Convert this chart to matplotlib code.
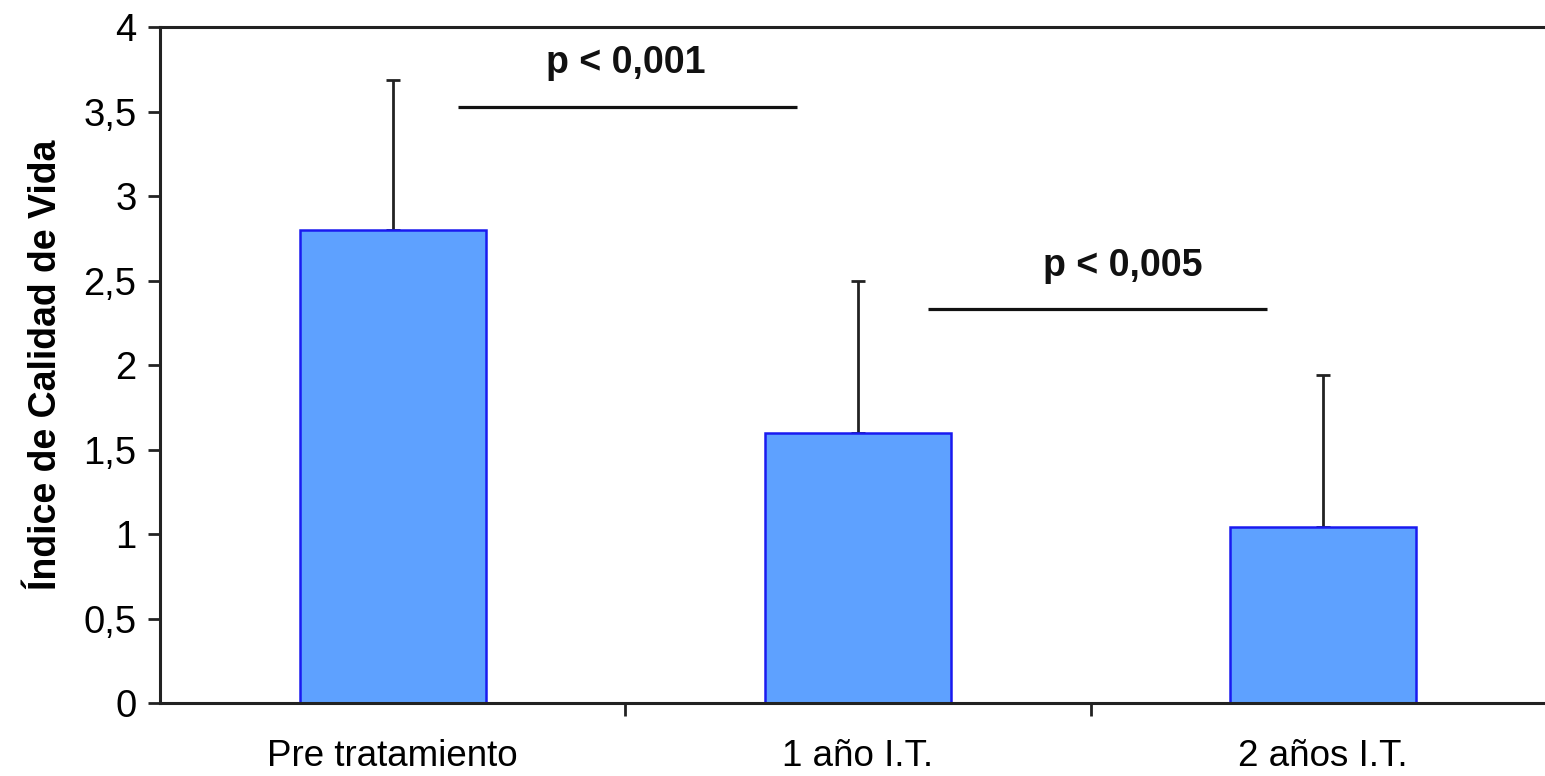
import matplotlib
matplotlib.use("Agg")
import matplotlib.pyplot as plt
from matplotlib.ticker import FuncFormatter, FixedLocator

categories = ["Pre tratamiento", "1 año I.T.", "2 años I.T."]
means = [2.80, 1.60, 1.04]
sd_upper = [0.89, 0.90, 0.90]
y_ticks = [0, 0.5, 1, 1.5, 2, 2.5, 3, 3.5, 4]
sig_labels = ["p < 0,001", "p < 0,005"]
sig_x = [(0.14, 0.87), (1.15, 1.88)]
sig_y = [3.53, 2.33]
sig_text_x = [0.50, 1.57]

plt.rcParams['font.family'] = ['Liberation Sans', 'DejaVu Sans']

fig = plt.figure(figsize=(15.45, 7.76), dpi=100)
ax = fig.add_axes([0.1036, 0.094, 0.9034, 0.871])

x = list(range(len(categories)))
ax.bar(x, means, width=0.4, color='#5EA1FF', edgecolor='#1A1AF0', linewidth=1.8, zorder=2)
ax.errorbar(x, means, yerr=[[0]*len(means), sd_upper], fmt='none', ecolor='#222222',
            elinewidth=2, capsize=5, capthick=2, zorder=1)

for (x0, x1), yy, tx, lab in zip(sig_x, sig_y, sig_text_x, sig_labels):
    ax.plot([x0, x1], [yy, yy], color='#111111', lw=2.3, solid_capstyle='butt')
    ax.text(tx, yy + 0.2, lab, ha='center', va='baseline',
            fontsize=27, fontweight='bold', color='#111111')

ax.set_xlim(-0.5, 2.5)
ax.set_ylim(0, 4)
ax.yaxis.set_major_locator(FixedLocator(y_ticks))
ax.yaxis.set_major_formatter(FuncFormatter(lambda v, p: ('%g' % v).replace('.', ',')))
ax.set_xticks([0.5, 1.5, 2.5])
ax.set_xticklabels([])
ax.set_xticks(x, minor=True)
ax.set_xticklabels(categories, minor=True, fontsize=26.5)
ax.tick_params(axis='x', which='minor', length=0, pad=26)
ax.tick_params(axis='x', which='major', direction='out', length=9, width=2, color='#222222')
ax.tick_params(axis='y', direction='out', length=9, width=2, color='#222222', labelsize=27.5, pad=8)

for s in ['left', 'bottom', 'top']:
    ax.spines[s].set_linewidth(2.2)
    ax.spines[s].set_color('#222222')
ax.spines['right'].set_visible(False)

ax.set_ylabel("Índice de Calidad de Vida", fontsize=27, fontweight='bold', labelpad=14)

fig.savefig("out.png", dpi=100, facecolor='white')
